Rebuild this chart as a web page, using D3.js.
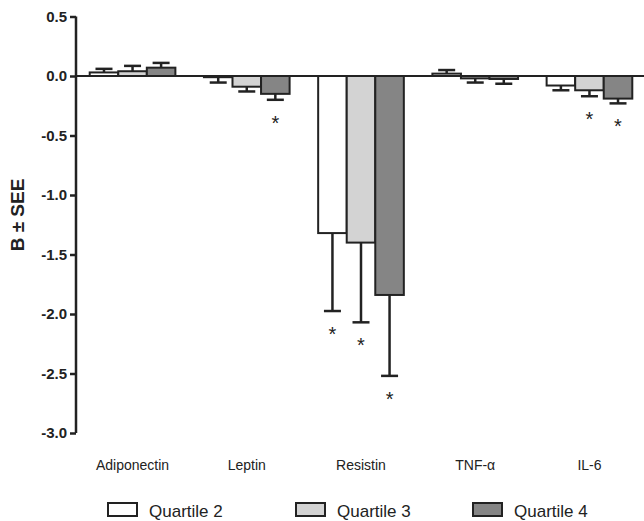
<!DOCTYPE html>
<html>
<head>
<meta charset="utf-8">
<script src="https://cdn.jsdelivr.net/npm/d3@7"></script>
<style>
    body { margin: 0; background: #fff; }
    svg { font-family: "Liberation Sans", Arial, sans-serif; }
</style>
</head>
<body>
<div id="chart"></div>
<script>
// categories and series
const markers = ['Adiponectin', 'Leptin', 'Resistin', 'TNF-\u03b1', 'IL-6'];
const quartiles = ['Quartile 2', 'Quartile 3', 'Quartile 4'];
const q2Values = [0.03, -0.01, -1.32, 0.02, -0.08];
const q3Values = [0.04, -0.09, -1.40, -0.02, -0.12];
const q4Values = [0.07, -0.15, -1.84, -0.025, -0.19];
const q2Errors = [0.03, 0.045, 0.655, 0.03, 0.04];
const q3Errors = [0.045, 0.04, 0.67, 0.035, 0.05];
const q4Errors = [0.04, 0.05, 0.68, 0.04, 0.04];
// significance flags (*)
const q2Sig = [false, false, true, false, false];
const q3Sig = [false, false, true, false, true];
const q4Sig = [false, true, true, false, true];
const yTicks = [0.5, 0.0, -0.5, -1.0, -1.5, -2.0, -2.5, -3.0];

const fills = ['#ffffff', '#d3d3d3', '#858585'];
const width = 644, height = 521;

const series = [
    {name: quartiles[0], values: q2Values, errors: q2Errors, sig: q2Sig},
    {name: quartiles[1], values: q3Values, errors: q3Errors, sig: q3Sig},
    {name: quartiles[2], values: q4Values, errors: q4Errors, sig: q4Sig},
];

const data = [];
markers.forEach((m, i) => {
    series.forEach((s, j) => {
        data.push({marker: m, quartile: s.name, idx: j, value: s.values[i], err: s.errors[i], sig: s.sig[i]});
    });
});

const svg = d3.select('#chart').append('svg')
    .attr('width', width)
    .attr('height', height);

// Scales
const y = d3.scaleLinear()
    .domain([-3.0, 0.5])
    .range([433, 16.5]);

const x0 = d3.scaleBand()
    .domain(markers)
    .range([76, 646])
    .paddingInner(0.25)
    .paddingOuter(0.12);

const x1 = d3.scaleBand()
    .domain(quartiles)
    .range([0, x0.bandwidth()]);

const color = d3.scaleOrdinal().domain(quartiles).range(fills);

// Bars
const groups = svg.append('g').selectAll('.bar')
    .data(data)
    .enter().append('g')
    .attr('class', 'bar')
    .attr('transform', d => `translate(${x0(d.marker) + x1(d.quartile)},0)`);

groups.append('rect')
    .attr('x', 0)
    .attr('width', x1.bandwidth())
    .attr('y', d => y(Math.max(0, d.value)))
    .attr('height', d => Math.abs(y(d.value) - y(0)))
    .attr('fill', d => color(d.quartile))
    .attr('stroke', '#222')
    .attr('stroke-width', 2);

// Error bars (one-sided, away from zero)
const errEnd = d => d.value >= 0 ? d.value + d.err : d.value - d.err;
const cx = x1.bandwidth() / 2;

groups.append('line')
    .attr('x1', cx).attr('x2', cx)
    .attr('y1', d => y(d.value))
    .attr('y2', d => y(errEnd(d)))
    .attr('stroke', '#222')
    .attr('stroke-width', 2.5);

groups.append('line')
    .attr('x1', cx - 8.5).attr('x2', cx + 8.5)
    .attr('y1', d => y(errEnd(d)))
    .attr('y2', d => y(errEnd(d)))
    .attr('stroke', '#222')
    .attr('stroke-width', 2.5);

// Significance stars
groups.filter(d => d.sig).append('text')
    .attr('x', cx)
    .attr('y', d => y(errEnd(d)) + 30)
    .attr('text-anchor', 'middle')
    .style('font-size', '20px')
    .style('fill', '#222')
    .text('*');

// X axis line at zero
svg.append('line')
    .attr('x1', 76).attr('x2', width)
    .attr('y1', y(0)).attr('y2', y(0))
    .attr('stroke', '#222')
    .attr('stroke-width', 2);

// Y axis
const yAxis = d3.axisLeft(y)
    .tickValues(yTicks)
    .tickSize(6)
    .tickPadding(3)
    .tickFormat(d3.format('.1f'));

const yAxisGroup = svg.append('g')
    .attr('transform', 'translate(76,0)')
    .call(yAxis);

yAxisGroup.select('.domain')
    .attr('stroke', '#222')
    .attr('stroke-width', 2.5)
    .attr('d', `M0,${y(0.5)}V${y(-3.0)}`);

yAxisGroup.selectAll('.tick line')
    .attr('stroke', '#222')
    .attr('stroke-width', 2.5);

yAxisGroup.selectAll('text')
    .style('font-size', '15px')
    .style('font-weight', 'bold')
    .style('fill', '#222')
    .text(d => d3.format('.1f')(d).replace('\u2212', '-'));

// Y axis label
svg.append('text')
    .attr('transform', 'rotate(-90)')
    .attr('x', -215)
    .attr('y', 24)
    .attr('text-anchor', 'middle')
    .style('font-size', '19px')
    .style('font-weight', 'bold')
    .style('fill', '#222')
    .text('B \u00b1 SEE');

// Category labels
svg.append('g').selectAll('.cat')
    .data(markers)
    .enter().append('text')
    .attr('class', 'cat')
    .attr('x', d => x0(d) + x0.bandwidth() / 2)
    .attr('y', 470)
    .attr('text-anchor', 'middle')
    .style('font-size', '14px')
    .style('fill', '#222')
    .text(d => d);

// Legend
const legendX = [108, 296, 473];
const legend = svg.append('g').selectAll('.legend')
    .data(quartiles)
    .enter().append('g')
    .attr('class', 'legend')
    .attr('transform', (d, i) => `translate(${legendX[i]}, 503)`);

legend.append('rect')
    .attr('width', 29)
    .attr('height', 13)
    .attr('fill', d => color(d))
    .attr('stroke', '#222')
    .attr('stroke-width', 2);

legend.append('text')
    .attr('x', 41)
    .attr('y', 14)
    .style('font-size', '17px')
    .style('fill', '#222')
    .text(d => d);
</script>
</body>
</html>
